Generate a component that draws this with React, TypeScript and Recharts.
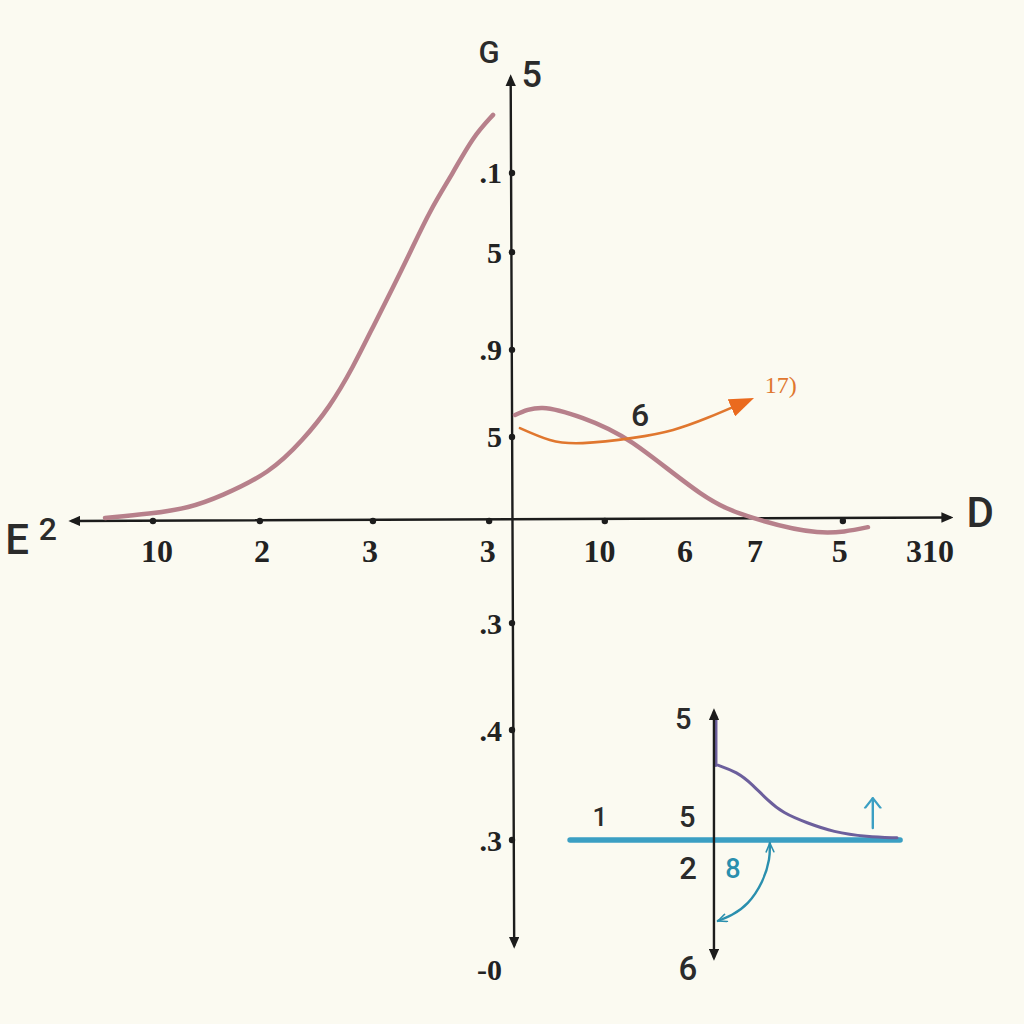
import React from "react";
import { ComposedChart, Line, XAxis, YAxis, ReferenceDot } from "recharts";

// ---------- data (units: x to the right, y upwards, origin where the main axes cross) ----------
const xTickValues = [-8.07, -5.68, -3.23, -0.55, 1.99, 3.93, 5.52, 7.45, 9.5];
const xTickLabels = ["10", "2", "3", "3", "10", "6", "7", "5", "310"];
const xTickDots = [-8.16, -5.73, -3.16, -0.52, 2.11, 7.52];

const yTickValues = [7.91, 6.11, 3.89, 1.91, -2.32, -4.75, -7.25, -10.2];
const yTickLabels = [".1", "5", ".9", "5", ".3", ".4", ".3", "-0"];
const yTickDots = [7.91, 6.11, 3.89, 1.91, -2.32, -4.75, -7.25];

const riseX = [-9.25, -8.23, -7.32, -6.64, -5.5, -4.75, -4.14, -3.61, -3.16, -2.7, -2.32, -1.86, -1.34, -0.89, -0.43];
const riseY = [0.07, 0.16, 0.3, 0.55, 1.09, 1.84, 2.59, 3.5, 4.41, 5.32, 6.09, 7.07, 7.91, 8.73, 9.23];

const humpX = [0.07, 0.7, 1.61, 2.75, 4.27, 5.48, 6.93, 8.09];
const humpY = [2.41, 2.57, 2.34, 1.77, 0.64, 0.07, -0.25, -0.14];

const orangeX = [0.18, 0.86, 1.61, 2.75, 3.66, 4.43, 5.14];
const orangeY = [2.11, 1.84, 1.77, 1.89, 2.07, 2.34, 2.64];

const decayX = [4.68, 5.11, 5.48, 5.8, 6.16, 6.7, 7.3, 8.07, 8.75];
const decayY = [-5.55, -5.7, -6.0, -6.34, -6.64, -6.86, -7.07, -7.18, -7.2];

const arcX = [5.86, 5.84, 5.68, 5.36, 5.0, 4.68];
const arcY = [-7.32, -7.7, -8.2, -8.68, -8.95, -9.09];

const mainXAxisX = [-10, 9.95];
const mainXAxisY = [0, 0.08];
const mainYAxisX = [0.05, -0.03];
const mainYAxisY = [-9.64, 10.07];
const insetAxisX = [4.59, 4.59];
const insetAxisY = [-9.91, -4.34];
const insetBaseX = [1.32, 8.82];
const insetBaseY = [-7.25, -7.25];
const purpleRiseX = [4.63, 4.63];
const purpleRiseY = [-4.45, -5.55];
const smallArrowX = [8.2, 8.2];
const smallArrowY = [-6.98, -6.3];

const axisLetters = ["E", "2", "D", "G", "5"];
const axisLetterX = [-11.25, -10.55, 10.64, -0.52, 0.45];
const axisLetterY = [-0.41, -0.18, 0.2, 10.64, 10.14];

const curveNotes = ["6", "17)"];
const curveNoteX = [2.91, 6.11];
const curveNoteY = [2.41, 3.09];

const insetLabels = ["5", "1", "5", "2", "8", "6"];
const insetLabelX = [3.89, 2.0, 3.98, 4.0, 5.02, 4.0];
const insetLabelY = [-4.5, -6.73, -6.73, -7.89, -7.91, -10.16];

// ---------- helpers ----------
const zip = (xs: number[], ys: number[]) => xs.map((x, i) => ({ x, y: ys[i] }));

const INK = "#1c1c1c";
const PINK = "#b7808b";
const ORANGE = "#e0772f";
const TEAL = "#3b9fc3";
const TEAL_DARK = "#2a8fae";
const PURPLE = "#6c5f9c";
const SERIF = "'Liberation Serif', 'DejaVu Serif', serif";
const SANS = "Roboto, 'Liberation Sans', Arial, sans-serif";

type TextStyle = { size: number; color: string; family: string; weight?: number | string; anchor?: string; dx?: number; dy?: number };

const textShape = (label: string, s: TextStyle) => (p: any) => (
  <text
    x={p.cx + (s.dx || 0)}
    y={p.cy + (s.dy || 0)}
    textAnchor={s.anchor || "middle"}
    dominantBaseline="central"
    fontFamily={s.family}
    fontSize={s.size}
    fontWeight={s.weight || "normal"}
    fill={s.color}
  >
    {label}
  </text>
);

const dotShape = (p: any) => <circle cx={p.cx} cy={p.cy} r={3.2} fill={INK} />;

const DARK = "#2b2b2b";
const axisLetterStyles: TextStyle[] = [
  { size: 42, color: DARK, family: SANS, weight: 500 },
  { size: 32, color: DARK, family: SANS, weight: 500 },
  { size: 42, color: DARK, family: SANS, weight: 500 },
  { size: 31, color: DARK, family: SANS, weight: 500 },
  { size: 36, color: DARK, family: SANS, weight: 500 },
];
const curveNoteStyles: TextStyle[] = [
  { size: 32, color: DARK, family: SANS, weight: 500 },
  { size: 24, color: ORANGE, family: SERIF },
];
const insetLabelStyles: TextStyle[] = [
  { size: 29, color: DARK, family: SANS, weight: 500 },
  { size: 26, color: DARK, family: SANS, weight: 500 },
  { size: 29, color: DARK, family: SANS, weight: 500 },
  { size: 31, color: DARK, family: SANS, weight: 500 },
  { size: 27, color: TEAL_DARK, family: SANS, weight: 500 },
  { size: 33, color: DARK, family: SANS, weight: 500 },
];

const lineCommon = {
  dataKey: "y",
  dot: false,
  activeDot: false,
  isAnimationActive: false,
  legendType: "none" as const,
  strokeLinecap: "round" as const,
};

export default function App() {
  return (
    <div style={{ position: "absolute", left: 0, top: 0, width: 1024, height: 1024, background: "#fbfaf1" }}>
      <ComposedChart width={1024} height={1024} margin={{ top: 37, right: 28, bottom: 19, left: 28 }}>
        <defs>
          <marker id="arrInk" viewBox="0 0 10 10" refX="7" refY="5" markerWidth="5" markerHeight="4.4" orient="auto-start-reverse" preserveAspectRatio="none">
            <path d="M0,0 L10,5 L0,10 z" fill={INK} />
          </marker>
          <marker id="arrOrange" viewBox="0 0 10 8" refX="3" refY="4" markerWidth="9.5" markerHeight="7.2" orient="auto" preserveAspectRatio="none">
            <path d="M0,0 L10,4 L0,8 z" fill="#ea6a1e" />
          </marker>
          <marker id="arrTeal" viewBox="0 0 10 10" refX="9" refY="5" markerWidth="4.5" markerHeight="4" orient="auto-start-reverse" preserveAspectRatio="none">
            <path d="M1,1 L9,5 L1,9" fill="none" stroke={TEAL_DARK} strokeWidth="1.6" strokeLinejoin="round" strokeLinecap="round" />
          </marker>
          <marker id="arrTealBig" viewBox="0 0 10 10" refX="9" refY="5" markerWidth="5" markerHeight="8" orient="auto" preserveAspectRatio="none">
            <path d="M1,1 L9,5 L1,9" fill="none" stroke={TEAL} strokeWidth="1.3" strokeLinejoin="round" strokeLinecap="round" />
          </marker>
        </defs>
        <XAxis type="number" dataKey="x" domain={[-11, 11]} allowDataOverflow hide />
        <YAxis type="number" dataKey="y" domain={[-11, 11]} allowDataOverflow hide />

        {/* main axes */}
        <Line {...lineCommon} data={zip(mainXAxisX, mainXAxisY)} type="linear" stroke={INK} strokeWidth={2.4} markerStart="url(#arrInk)" markerEnd="url(#arrInk)" />
        <Line {...lineCommon} data={zip(mainYAxisX, mainYAxisY)} type="linear" stroke={INK} strokeWidth={2.4} markerStart="url(#arrInk)" markerEnd="url(#arrInk)" />

        {/* curves */}
        <Line {...lineCommon} data={zip(riseX, riseY)} type="basis" stroke={PINK} strokeWidth={4.5} />
        <Line {...lineCommon} data={zip(humpX, humpY)} type="natural" stroke={PINK} strokeWidth={4.5} />
        <Line {...lineCommon} data={zip(orangeX, orangeY)} type="natural" stroke={ORANGE} strokeWidth={2.6} markerEnd="url(#arrOrange)" />

        {/* inset */}
        <Line {...lineCommon} data={zip(insetBaseX, insetBaseY)} type="linear" stroke={TEAL} strokeWidth={5.5} />
        <Line {...lineCommon} data={zip(purpleRiseX, purpleRiseY)} type="linear" stroke={PURPLE} strokeWidth={3.5} />
        <Line {...lineCommon} data={zip(insetAxisX, insetAxisY)} type="linear" stroke={INK} strokeWidth={2.4} markerStart="url(#arrInk)" markerEnd="url(#arrInk)" />
        <Line {...lineCommon} data={zip(decayX, decayY)} type="basis" stroke={PURPLE} strokeWidth={3} />
        <Line {...lineCommon} data={zip(arcX, arcY)} type="natural" stroke={TEAL_DARK} strokeWidth={2.4} markerStart="url(#arrTeal)" markerEnd="url(#arrTeal)" />
        <Line {...lineCommon} data={zip(smallArrowX, smallArrowY)} type="linear" stroke={TEAL} strokeWidth={2.4} markerEnd="url(#arrTealBig)" />

        {/* tick dots */}
        {xTickDots.map((v, i) => (
          <ReferenceDot key={"xd" + i} x={v} y={0} ifOverflow="visible" shape={dotShape} />
        ))}
        {yTickDots.map((v, i) => (
          <ReferenceDot key={"yd" + i} x={0} y={v} ifOverflow="visible" shape={dotShape} />
        ))}

        {/* tick labels */}
        {xTickValues.map((v, i) => (
          <ReferenceDot key={"xl" + i} x={v} y={0} ifOverflow="visible"
            shape={textShape(xTickLabels[i], { size: 32, color: "#222", family: SERIF, weight: "bold", dy: 30 })} />
        ))}
        {yTickValues.map((v, i) => (
          <ReferenceDot key={"yl" + i} x={0} y={v} ifOverflow="visible"
            shape={textShape(yTickLabels[i], { size: 30, color: "#222", family: SERIF, weight: "bold", anchor: "end", dx: -10 })} />
        ))}

        {/* axis letters and annotations */}
        {axisLetters.map((t, i) => (
          <ReferenceDot key={"al" + i} x={axisLetterX[i]} y={axisLetterY[i]} ifOverflow="visible" shape={textShape(t, axisLetterStyles[i])} />
        ))}
        {curveNotes.map((t, i) => (
          <ReferenceDot key={"cn" + i} x={curveNoteX[i]} y={curveNoteY[i]} ifOverflow="visible" shape={textShape(t, curveNoteStyles[i])} />
        ))}
        {insetLabels.map((t, i) => (
          <ReferenceDot key={"il" + i} x={insetLabelX[i]} y={insetLabelY[i]} ifOverflow="visible" shape={textShape(t, insetLabelStyles[i])} />
        ))}
      </ComposedChart>
    </div>
  );
}
